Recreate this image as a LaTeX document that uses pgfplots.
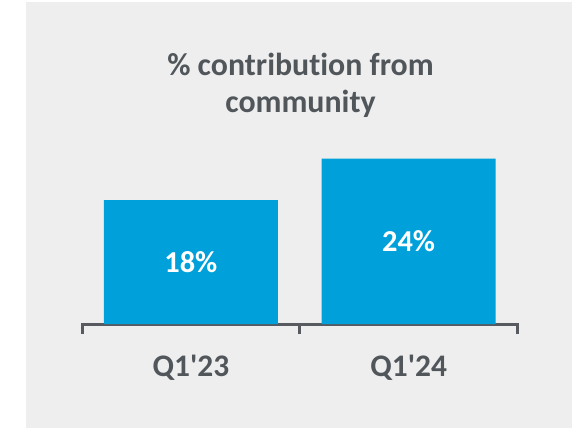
\documentclass[border=0pt]{standalone}
\usepackage{pgfplots}
\pgfplotsset{compat=1.18}
\usepackage{fontspec}
\setmainfont{Carlito}[Ligatures={NoCommon}]
\newfontfamily\carl{Carlito}[Ligatures={NoCommon}]
\definecolor{bg}{HTML}{EEEEEE}
\definecolor{barblue}{HTML}{00A0DA}
\definecolor{txt}{HTML}{51565B}
\definecolor{axl}{HTML}{575B60}
\begin{document}
\begin{tikzpicture}[x=1bp,y=1bp]
\path[use as bounding box] (-82,-104) rectangle (500,324);
\fill[white] (-82,-104) rectangle (500,324);
\fill[bg] (-56,-104) rectangle (490,322);
\begin{axis}[
  at={(0,0)}, anchor=south west,
  scale only axis,
  width=435.5bp, height=179.1bp,
  xmin=-0.5, xmax=1.5, ymin=0, ymax=26,
  enlargelimits=false,
  axis y line=none,
  axis x line*=bottom,
  x axis line style={-, line width=3bp, color=axl, line cap=rect},
  xtick={0,1},
  xticklabels={{\carl Q1'23},{\carl Q1'24}},
  major tick length=0pt,
  xticklabel style={font=\fontsize{31.5}{36}\selectfont\bfseries, text=txt, anchor=base, yshift=-52bp},
  extra x ticks={-0.5,0.5,1.5},
  extra x tick labels={},
  extra x tick style={major tick length=10bp, tick align=outside, tick style={line width=3bp, color=axl}},
  ybar, bar width=0.8,
  /pgf/number format/assume math mode=true,
  nodes near coords={\carl\pgfmathprintnumber{\pgfplotspointmeta}\%},
  visualization depends on={y/2 \as \half},
  every node near coord/.append style={font=\fontsize{30.5}{36}\selectfont\bfseries, text=white, anchor=center, shift={(axis direction cs:0,-\half)}},
]
\addplot[fill=barblue, draw=none] coordinates {(0,18) (1,24)};
\end{axis}
\node[anchor=base, font=\fontsize{32}{36}\selectfont\bfseries\carl, text=txt] at (218.5,249) {\% contribution from};
\node[anchor=base, font=\fontsize{32}{36}\selectfont\bfseries\carl, text=txt] at (218.5,212) {community};
\end{tikzpicture}
\end{document}
